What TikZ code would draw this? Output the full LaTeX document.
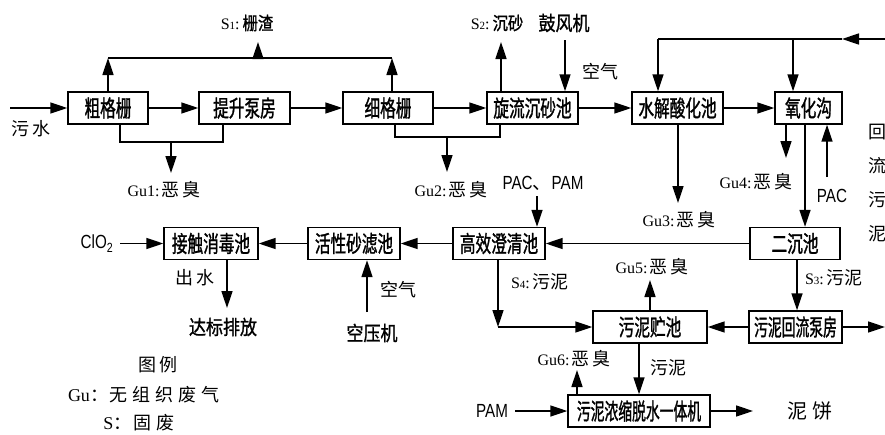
\documentclass[tikz,border=0pt]{standalone}
\usepackage{fontspec}
\setmainfont{Liberation Serif}
\newfontfamily\cjk{Noto Sans CJK SC}
\newfontfamily\cjkbox[FakeStretch=0.68,FakeBold=1.2]{Noto Sans CJK SC}
\newfontfamily\cjkboxn[FakeStretch=0.6,FakeBold=1.2]{Noto Sans CJK SC}
\newfontfamily\cjkbold[FakeStretch=0.85,FakeBold=1.2]{Noto Sans CJK SC}
\newfontfamily\narrowsans[FakeStretch=0.8]{Liberation Sans}
\usetikzlibrary{arrows.meta}
\newcommand\gs{\hspace{3pt}}
\newcommand\gulbl[1]{{\rmfamily\fontsize{16}{16}\selectfont Gu#1:}\hspace{2pt}恶\gs 臭}
\newcommand\slbl[1]{{\rmfamily\fontsize{16}{16}\selectfont S{\fontsize{11}{11}\selectfont #1}:}\hspace{3pt}}
\begin{document}
\begin{tikzpicture}[x=1pt,y=-1pt,
  box/.style={draw, line width=1.4pt, inner sep=0pt, minimum height=32pt, font=\cjkbox\fontsize{23}{23}\selectfont},
  boxn/.style={box, font=\cjkboxn\fontsize{23}{23}\selectfont},
  lbl/.style={inner sep=0pt, font=\cjk\fontsize{18}{18}\selectfont},
  blbl/.style={inner sep=0pt, font=\cjkbold\fontsize{20}{20}\selectfont},
  nlbl/.style={inner sep=0pt, font=\narrowsans\fontsize{19}{19}\selectfont},
  flow/.style={line width=1.6pt, -{Triangle[length=17pt,width=11pt]}},
  ln/.style={line width=1.6pt}]
\useasboundingbox (0,0) rectangle (885,434);
% boxes
\node[box, minimum width=80pt] (cg) at (108,108) {粗格栅};
\node[box, minimum width=91pt] (tsbf) at (244.5,108) {提升泵房};
\node[box, minimum width=90pt] (xgs) at (388,108) {细格栅};
\node[box, minimum width=91pt] (xl) at (532.5,108) {旋流沉砂池};
\node[box, minimum width=91pt] (sj) at (677.5,108) {水解酸化池};
\node[box, minimum width=67pt] (yhg) at (808.5,108) {氧化沟};
\node[box, minimum width=90pt] (ecc) at (795,243.5) {二沉池};
\node[box, minimum width=92pt] (gx) at (499,243.5) {高效澄清池};
\node[box, minimum width=92pt] (hx) at (354,243.5) {活性砂滤池};
\node[box, minimum width=94pt] (jc) at (211,243.5) {接触消毒池};
\node[box, minimum width=114pt] (wnc) at (650,327) {污泥贮池};
\node[boxn, minimum width=93pt] (wnhl) at (795.5,327) {污泥回流泵房};
\node[boxn, minimum width=142pt] (yt) at (639,411) {污泥浓缩脱水一体机};
% labels
\node[lbl] (wsl) at (31,129) {污\gs 水};
\node[lbl] (s1l) at (247,23) {\slbl{1}{\cjkbold 栅渣}};
\node[lbl] (g1l) at (164,190) {\gulbl{1}};
\node[lbl] (g2l) at (451,190) {\gulbl{2}};
\node[lbl] (s2l) at (497,23) {\slbl{2}{\cjkbold 沉砂}};
\node[blbl] (gfj) at (564,23) {鼓风机};
\node[lbl] (kq1) at (600,72) {空气};
\node[lbl] (g3l) at (679,220) {\gulbl{3}};
\node[lbl] (g4l) at (756,182) {\gulbl{4}};
\node[nlbl] (pacl) at (832,196) {PAC};
\node[lbl, align=center, font=\cjk\fontsize{18}{34}\selectfont] (hlwn) at (877,183) {回\\流\\污\\泥};
\node[nlbl] (ppl) at (543,183) {PAC{\cjk 、}PAM};
\node[nlbl] (clo) at (97,243.5) {ClO\textsubscript{2}};
\node[lbl] (csl) at (195,278) {出\gs 水};
\node[blbl] (dbpf) at (223,327) {达标排放};
\node[lbl] (kq2) at (398,290) {空气};
\node[blbl] (kyj) at (372,333) {空压机};
\node[lbl] (s3l) at (834,278) {\slbl{3}污泥};
\node[lbl] (s4l) at (540,282) {\slbl{4}污泥};
\node[lbl] (g5l) at (652,267) {\gulbl{5}};
\node[lbl] (wnl) at (668,368) {污泥};
\node[lbl] (g6l) at (574,359) {\gulbl{6}};
\node[nlbl] (paml) at (492,411) {PAM};
\node[lbl, font=\cjk\fontsize{20}{20}\selectfont] (nbl) at (810,411) {泥\hspace{5pt}饼};
\node[lbl] (tl) at (158,365) {图\gs 例};
\node[lbl] (lg1) at (144,395) {{\rmfamily Gu}：\hspace{2pt}无\hspace{5pt}组\hspace{5pt}织\hspace{5pt}废\hspace{5pt}气};
\node[lbl] (lg2) at (139,423) {{\rmfamily S}：\hspace{2pt}固\hspace{5pt}废};
% coordinates
\coordinate (win) at (10,108);
\coordinate (s1a) at (108,58);
\coordinate (s1b) at (392,58);
\coordinate (s1m) at (258,58);
\coordinate (s1t) at (258,42);
\coordinate (g1a) at (120,142);
\coordinate (g1b) at (223,142);
\coordinate (g1m) at (171,142);
\coordinate (g1t) at (171,173);
\coordinate (g2a) at (395,137);
\coordinate (g2b) at (500,137);
\coordinate (g2m) at (447,137);
\coordinate (g2t) at (447,172);
\coordinate (s2t) at (501,42);
\coordinate (gfs) at (565,40);
\coordinate (rr) at (885,39);
\coordinate (rm) at (842,39);
\coordinate (rl) at (658,39);
\coordinate (rb) at (793,39);
\coordinate (g3t) at (678,203);
\coordinate (g4t) at (786,158);
\coordinate (pacs) at (827,177);
\coordinate (c805) at (805,124);
\coordinate (pps) at (537,196);
\coordinate (cls) at (120,243.5);
\coordinate (cst) at (227,308);
\coordinate (kys) at (367,312);
\coordinate (c797) at (797,270);
\coordinate (wre) at (885,327);
\coordinate (s4c) at (498,327);
\coordinate (g5t) at (650,280);
\coordinate (c639) at (639,360);
\coordinate (g6t) at (577,370);
\coordinate (pams) at (515,411);
\coordinate (nbe) at (753,411);
% top row
\draw[flow] (win) -- (cg);
\draw[flow] (cg) -- (tsbf);
\draw[flow] (tsbf) -- (xgs);
\draw[flow] (xgs) -- (xl);
\draw[flow] (xl) -- (sj);
\draw[flow] (sj) -- (yhg);
% S1
\draw[flow] (s1a |- cg.north) -- (s1a);
\draw[flow] (s1b |- xgs.north) -- (s1b);
\draw[ln] (s1a) -- (s1b);
\draw[flow] (s1m) -- (s1t);
% Gu1, Gu2
\draw[ln] (g1a |- cg.south) -- (g1a) -- (g1b) -- (g1b |- tsbf.south);
\draw[flow] (g1m) -- (g1t);
\draw[ln] (g2a |- xgs.south) -- (g2a) -- (g2b) -- (g2b |- xl.south);
\draw[flow] (g2m) -- (g2t);
% S2, blower
\draw[flow] (s2t |- xl.north) -- (s2t);
\draw[flow] (gfs) -- (gfs |- xl.north);
% return sludge
\draw[flow] (rr) -- (rm);
\draw[ln] (rm) -- (rl);
\draw[flow] (rl) -- (rl |- sj.north);
\draw[flow] (rb) -- (rb |- yhg.north);
% Gu3, Gu4, PAC
\draw[flow] (g3t |- sj.south) -- (g3t);
\draw[flow] (g4t |- yhg.south) -- (g4t);
\draw[flow] (pacs) -- (pacs |- yhg.south);
\draw[flow] (c805 |- yhg.south) -- (c805 |- ecc.north);
% middle row
\draw[flow] (ecc) -- (gx);
\draw[flow] (pps) -- (pps |- gx.north);
\draw[flow] (gx) -- (hx);
\draw[flow] (hx) -- (jc);
\draw[flow] (cls) -- (jc);
\draw[flow] (cst |- jc.south) -- (cst);
\draw[flow] (kys) -- (kys |- hx.south);
% sludge
\draw[flow] (c797 |- ecc.south) -- (c797 |- wnhl.north);
\draw[flow] (wnhl) -- (wre);
\draw[flow] (wnhl) -- (wnc);
\draw[flow] (s4c |- gx.south) -- (s4c);
\draw[flow] (s4c) -- (wnc);
\draw[flow] (g5t |- wnc.north) -- (g5t);
\draw[flow] (c639 |- wnc.south) -- (c639 |- yt.north);
\draw[flow] (g6t |- yt.north) -- (g6t);
\draw[flow] (pams) -- (yt);
\draw[flow] (yt) -- (nbe);
\end{tikzpicture}
\end{document}
